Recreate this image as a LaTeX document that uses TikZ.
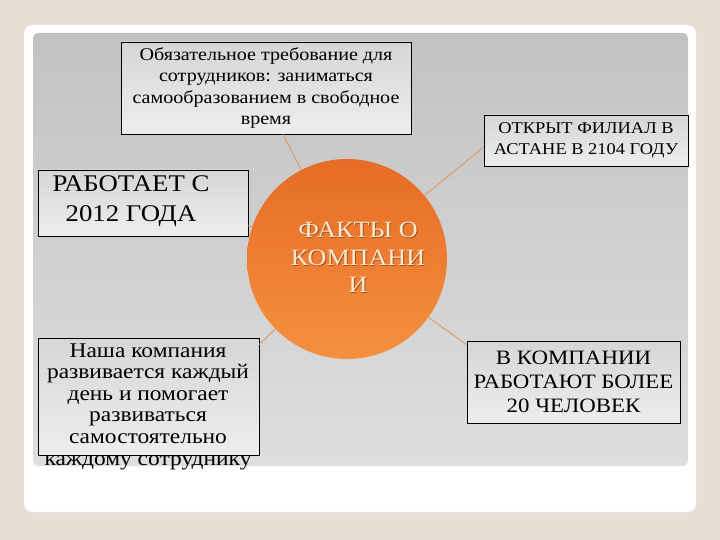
\documentclass[tikz,border=0pt]{standalone}
\usepackage{fontspec}
\setmainfont[FakeStretch=1.12]{Liberation Serif}
\usetikzlibrary{calc}
\definecolor{bgbeige}{HTML}{E4DED4}
\definecolor{panelTop}{HTML}{C2C2C2}
\definecolor{panelBot}{HTML}{DEDEDE}
\definecolor{boxTop}{HTML}{D6D6D6}
\definecolor{boxBot}{HTML}{EEEEEE}
\definecolor{orangeA}{HTML}{E66C26}
\definecolor{orangeB}{HTML}{F59040}
\definecolor{conncol}{HTML}{D9A57A}
\definecolor{creamtxt}{HTML}{FBEBD0}
\definecolor{shadowtxt}{HTML}{A4501C}
\tikzset{
  factbox/.style={draw=black, line width=0.8bp, rectangle, inner sep=0pt,
    top color=boxTop, bottom color=boxBot, align=center, text=black},
  conn/.style={draw=conncol, line width=1.2bp},
}
\begin{document}
\begin{tikzpicture}[x=1bp,y=-1bp]
\useasboundingbox (0,0) rectangle (720,540);
\fill[bgbeige] (0,0) rectangle (720,540);
% card
\fill[white, draw=white!85!gray, rounded corners=8bp] (24,25) rectangle (696,512);
% panel
\shade[top color=panelTop, bottom color=panelBot, rounded corners=5bp] (33,33) rectangle (688,466);

% boxes
\node[factbox, minimum width=290bp, minimum height=92bp,
  font=\fontsize{18}{21.3}\selectfont] (top) at (266,88)
  {Обязательное требование для\\сотрудников: заниматься\\самообразованием в свободное\\время};
\node[factbox, minimum width=210bp, minimum height=66bp] (left) at (143,203) {};
\node[align=center, inner sep=0pt, font=\fontsize{24}{30}\selectfont] (lefttext) at (131,201)
  {РАБОТАЕТ С\\2012 ГОДА};
\node[factbox, minimum width=221bp, minimum height=117bp] (botleft) at (148.5,396.5) {};
\node[align=center, font=\fontsize{21}{21.7}\selectfont, inner sep=0pt] (botlefttext) at (148,406.5)
  {Наша компания\\развивается каждый\\день и помогает\\развиваться\\самостоятельно\\каждому сотруднику};
\node[factbox, minimum width=204bp, minimum height=51bp,
  font=\fontsize{16.5}{21}\selectfont] (righttop) at (586,140.5)
  {ОТКРЫТ ФИЛИАЛ В\\АСТАНЕ В 2104 ГОДУ};
\node[factbox, minimum width=213bp, minimum height=82bp,
  font=\fontsize{20.5}{24}\selectfont] (rightbot) at (573.5,382)
  {В КОМПАНИИ\\РАБОТАЮТ БОЛЕЕ\\20 ЧЕЛОВЕК};

% circle
\node[circle, minimum size=200bp, inner sep=0pt, draw=none,
  top color=orangeA, bottom color=orangeB] (circ) at (347,259) {};
\node[align=center, text=shadowtxt, font=\fontsize{23.4}{27.5}\selectfont] at (359,258.5)
  {ФАКТЫ О\\КОМПАНИ\\И};
\node[align=center, text=creamtxt, font=\fontsize{23.4}{27.5}\selectfont] (circtext) at (358,257.5)
  {ФАКТЫ О\\КОМПАНИ\\И};

% connectors
\draw[conn] ($(top.south)+(17,0)$) -- (circ);
\draw[conn] ($(left.south east)+(0,-11)$) -- (circ);
\draw[conn] ($(botleft.north east)+(0,7)$) -- (circ);
\draw[conn] ($(righttop.west)+(0,6.5)$) -- (circ);
\draw[conn] ($(rightbot.north west)+(0,4)$) -- (circ);
\end{tikzpicture}
\end{document}
